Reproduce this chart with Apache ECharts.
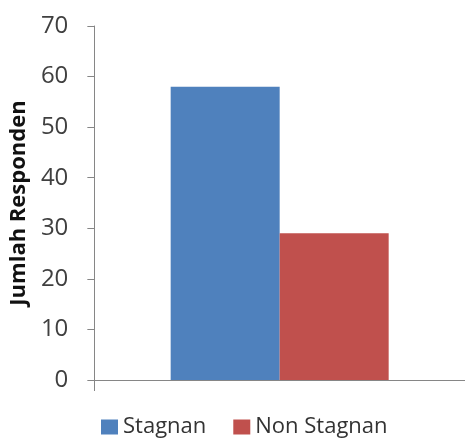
<!DOCTYPE html>
<html>
<head>
<meta charset="utf-8">
<script src="https://cdn.jsdelivr.net/npm/echarts@6/dist/echarts.min.js"></script>
<style>
  html, body { margin: 0; padding: 0; background: #fff; }
  #chart { width: 465px; height: 440px; }
</style>
</head>
<body>
<div id="chart"></div>
<script>
// data
const categories = ['']
const seriesNames = ['Stagnan', 'Non Stagnan']
const stagnan = [58]
const nonStagnan = [29]
const yTicks = { min: 0, max: 70, interval: 10 }
const colors = ['#4f81bd', '#c0504d']

const chart = echarts.init(document.getElementById('chart'))
const font = '"Open Sans", "Liberation Sans", sans-serif'

chart.setOption({
  animation: false,
  textStyle: { fontFamily: font },
  grid: { left: 87, top: 26, width: 384, height: 354, containLabel: false },
  legend: {
    data: seriesNames,
    left: 96,
    top: 411,
    itemWidth: 17,
    itemHeight: 15,
    itemGap: 27,
    icon: 'rect',
    textStyle: { fontSize: 22, color: '#333', fontFamily: font }
  },
  xAxis: {
    type: 'category',
    data: categories,
    axisLine: { lineStyle: { color: '#868686', width: 1 } },
    axisTick: { show: true, length: 11, lineStyle: { color: '#868686' } },
    axisLabel: { show: false }
  },
  yAxis: {
    type: 'value',
    min: yTicks.min,
    max: yTicks.max,
    interval: yTicks.interval,
    name: 'Jumlah Responden',
    nameLocation: 'middle',
    nameGap: 50,
    nameTextStyle: { fontSize: 22, fontWeight: 'bold', color: '#111', fontFamily: font },
    axisLine: { show: true, lineStyle: { color: '#868686', width: 1 } },
    axisTick: { show: true, length: 7, lineStyle: { color: '#868686' } },
    axisLabel: { fontSize: 24, color: '#404040', margin: 26, fontFamily: font },
    splitLine: { show: false }
  },
  series: [
    { name: seriesNames[0], type: 'bar', data: stagnan, barWidth: 109, barGap: '0%', itemStyle: { color: colors[0] } },
    { name: seriesNames[1], type: 'bar', data: nonStagnan, barWidth: 109, barGap: '0%', itemStyle: { color: colors[1] } }
  ]
})
</script>
</body>
</html>
